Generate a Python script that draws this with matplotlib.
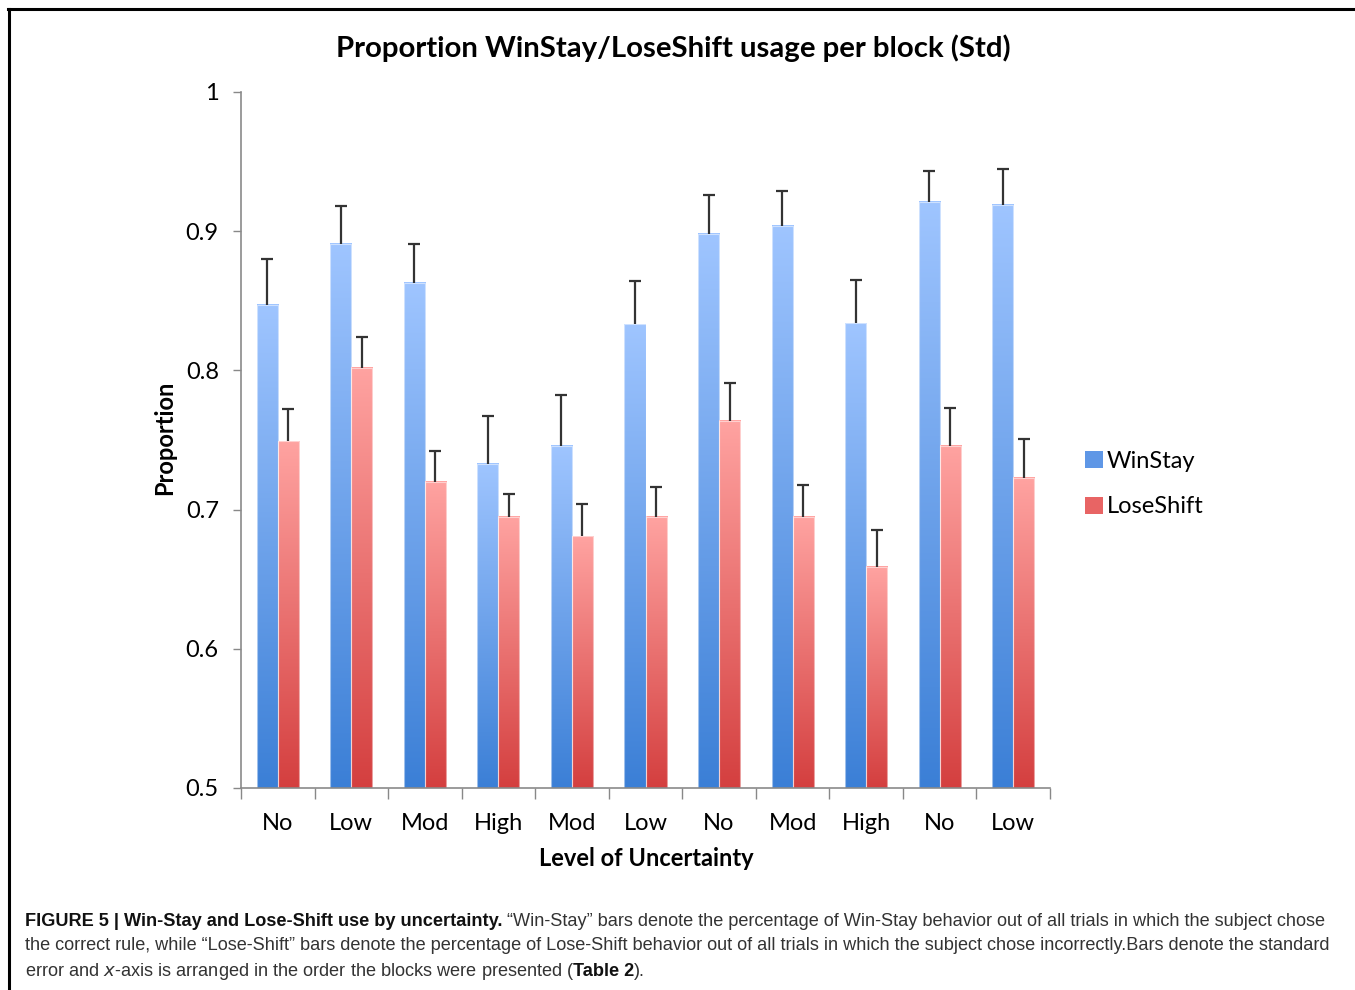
import matplotlib
matplotlib.use("Agg")
import matplotlib.pyplot as plt
import numpy as np
from matplotlib.colors import LinearSegmentedColormap
from matplotlib.patches import Patch
from matplotlib.lines import Line2D

categories = ["No", "Low", "Mod", "High", "Mod", "Low", "No", "Mod", "High", "No", "Low"]
winstay = [0.847, 0.891, 0.863, 0.733, 0.746, 0.833, 0.898, 0.904, 0.834, 0.921, 0.919]
winstay_err = [0.033, 0.027, 0.028, 0.034, 0.036, 0.031, 0.028, 0.025, 0.031, 0.022, 0.026]
loseshift = [0.749, 0.802, 0.720, 0.695, 0.681, 0.695, 0.764, 0.695, 0.659, 0.746, 0.723]
loseshift_err = [0.023, 0.022, 0.022, 0.016, 0.023, 0.021, 0.027, 0.023, 0.026, 0.027, 0.028]
series_names = ["WinStay", "LoseShift"]

W, H = 1355, 990
fig = plt.figure(figsize=(W / 100, H / 100), dpi=100)
ax = fig.add_axes([241 / W, 1 - 788 / H, 809 / W, 696 / H])

font = "Lato"
x = np.arange(len(categories))
bw = 0.286

blue_cmap = LinearSegmentedColormap.from_list("b", ["#3b7fd6", "#9fc5ff"])
red_cmap = LinearSegmentedColormap.from_list("r", ["#d43f3f", "#ffa3a1"])

bars_w = ax.bar(x - bw / 2, winstay, bw, bottom=0, facecolor="none", edgecolor="none")
bars_l = ax.bar(x + bw / 2, loseshift, bw, bottom=0, facecolor="none", edgecolor="none")

grad = np.linspace(0, 1, 256).reshape(-1, 1)
ymin = 0.5
for bars, cmap in ((bars_w, blue_cmap), (bars_l, red_cmap)):
    for p in bars:
        x0 = p.get_x()
        x1 = x0 + p.get_width()
        y1 = p.get_height()
        ax.imshow(grad, extent=[x0, x1, ymin, y1], origin="lower", aspect="auto",
                  cmap=cmap, zorder=2, interpolation="bilinear")
        ax.plot([x0, x0, x1, x1], [ymin, y1, y1, ymin], color="white", lw=0.8, alpha=0.5, zorder=2.5)

ecol = "#333333"
for xs, vals, errs in ((x - bw / 2, winstay, winstay_err), (x + bw / 2, loseshift, loseshift_err)):
    cont = ax.errorbar(xs, vals, yerr=[np.zeros(len(x)), errs], fmt="none",
                       ecolor=ecol, elinewidth=1.6, capsize=4.5, capthick=1.6, zorder=3)
    caps = cont[1]
    if len(caps) == 2:
        caps[0].set_visible(False)

ax.set_xlim(-0.5, len(x) - 0.5)
ax.set_ylim(0.5, 1.0)
ax.set_yticks([0.5, 0.6, 0.7, 0.8, 0.9, 1.0])
ax.set_yticklabels(["0.5", "0.6", "0.7", "0.8", "0.9", "1"], fontsize=17, family=font)
ax.set_xticks(np.arange(len(x) + 1) - 0.5)
ax.set_xticklabels([])
ax.set_xticks(x, minor=True)
ax.set_xticklabels(categories, minor=True, fontsize=17, family=font)
ax.tick_params(axis="x", which="major", length=8, width=1, color="#888888", direction="out")
ax.tick_params(axis="x", which="minor", length=0, pad=18)
ax.tick_params(axis="y", length=6, width=1, color="#888888", direction="out", pad=10)

for s in ("top", "right"):
    ax.spines[s].set_visible(False)
for s in ("left", "bottom"):
    ax.spines[s].set_color("#8a8a8a")
    ax.spines[s].set_linewidth(1.2)

fig.text(673 / W, 1 - 48 / H, "Proportion WinStay/LoseShift usage per block (Std)",
         ha="center", va="center", fontsize=21.2, fontweight="bold", family=font)
fig.text(646 / W, 1 - 859 / H, "Level of Uncertainty", ha="center", va="center",
         fontsize=17, fontweight="bold", family=font)
fig.text(165 / W, 1 - 438 / H, "Proportion", ha="center", va="center", rotation=90,
         fontsize=17, fontweight="bold", family=font)

handles = [Patch(facecolor="#5f97e6", edgecolor="none"), Patch(facecolor="#e86464", edgecolor="none")]
leg = fig.legend(handles, series_names, loc="center left", bbox_to_anchor=(1064 / W, 1 - 484 / H),
                 frameon=False, prop={"family": font, "size": 17}, handlelength=0.75,
                 handleheight=0.75, handletextpad=0.15, labelspacing=1.05)

# frame lines
fig.add_artist(Line2D([8 / W, 1], [1 - 9 / H, 1 - 9 / H], color="black", lw=2.2))
fig.add_artist(Line2D([9 / W, 9 / W], [0, 1 - 9 / H], color="black", lw=2.2))

cap_font = "Liberation Sans"
cs = 13.1
cc = "#333333"
y1 = 1 - 921 / H
bold_txt = fig.text(25 / W, y1, "FIGURE 5 | Win-Stay and Lose-Shift use by uncertainty.", fontsize=cs,
                    fontweight="bold", family=cap_font, color="#111111", va="center")
fig.canvas.draw()
r = fig.canvas.get_renderer()
bb = bold_txt.get_window_extent(renderer=r)
fig.text((bb.x1 + 5) / W, y1,
         "\u201cWin-Stay\u201d bars denote the percentage of Win-Stay behavior out of all trials in which the subject chose",
         fontsize=cs, family=cap_font, color=cc, va="center")
fig.text(25 / W, 1 - 946 / H,
         "the correct rule, while \u201cLose-Shift\u201d bars denote the percentage of Lose-Shift behavior out of all trials in which the subject chose incorrectly.Bars denote the standard",
         fontsize=cs, family=cap_font, color=cc, va="center")
t3 = fig.text(25 / W, 1 - 971 / H,
              "error and $\\mathit{x}$-axis is arranged in the order the blocks were presented (",
              fontsize=cs, family=cap_font, color=cc, va="center")
fig.canvas.draw()
bb3 = t3.get_window_extent(renderer=r)
t4 = fig.text((bb3.x1 - 2) / W, 1 - 971 / H, "Table 2", fontsize=cs, family=cap_font, color="#111111",
              fontweight="bold", va="center")
fig.canvas.draw()
bb4 = t4.get_window_extent(renderer=r)
fig.text(bb4.x1 / W, 1 - 971 / H, ").", fontsize=cs, family=cap_font, color=cc, va="center")

fig.savefig("out.png", dpi=100)
